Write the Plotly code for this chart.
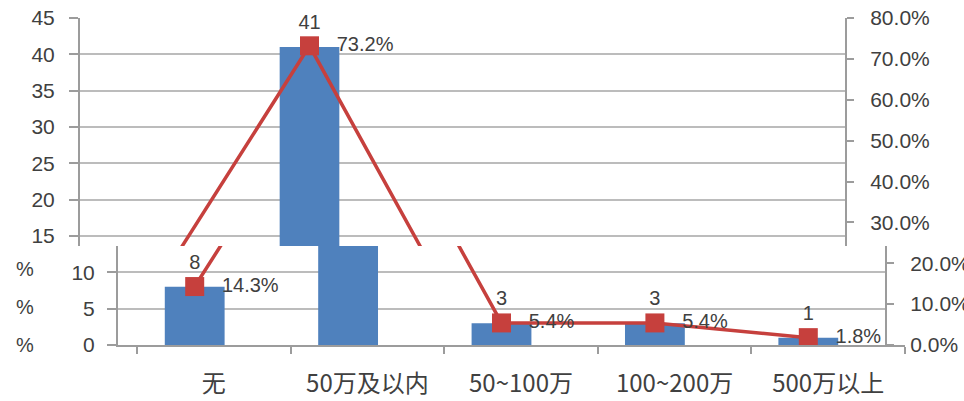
import plotly.graph_objects as go

# ---- data ----
categories = ["无", "50万及以内", "50~100万", "100~200万", "500万以上"]
counts = [8, 41, 3, 3, 1]
shares = [0.143, 0.732, 0.054, 0.054, 0.018]
share_labels = ["14.3%", "73.2%", "5.4%", "5.4%", "1.8%"]
count_labels = ["8", "41", "3", "3", "1"]
edge_marks = ["%", "%", "%"]

# ---- layout helpers (pixel positions) ----
W, H = 964, 401
def px(x):
    return x / W
def py(y):
    return 1 - y / H

LEFT_MAX, RIGHT_MAX = 45, 0.8
PLOT_TOP, PLOT_BOTTOM, SPLIT = 18, 345, 246
frac = (PLOT_BOTTOM - SPLIT) / (PLOT_BOTTOM - PLOT_TOP)
cut_left = LEFT_MAX * frac
cut_right = RIGHT_MAX * frac

BAR = "#4f81bd"
RED = "#c6403d"
TXT = "#404040"
GRID = "#bcbcbc"
AXL = "#9c9c9c"
NUMFONT = "Liberation Sans, Noto Sans CJK SC"

fig = go.Figure()

def add_panel(xa, ya, ya2, top):
    fig.add_trace(go.Bar(x=categories, y=counts, marker_color=BAR, marker_line_width=0,
                         xaxis=xa, yaxis=ya, showlegend=False, hoverinfo="skip"))
    fig.add_trace(go.Scatter(x=categories, y=shares, mode="lines+markers",
                             line=dict(color=RED, width=3.5),
                             marker=dict(symbol="square", size=19, color=RED),
                             xaxis=xa, yaxis=ya2, showlegend=False, hoverinfo="skip"))
    if top:
        ctext = [t if v > cut_left else "" for t, v in zip(count_labels, counts)]
        stext = [t if v > cut_right else "" for t, v in zip(share_labels, shares)]
        clip = False
    else:
        ctext, stext, clip = count_labels, share_labels, True
    fig.add_trace(go.Scatter(x=categories, y=counts, mode="markers+text", text=ctext,
                             textposition="top center", cliponaxis=clip,
                             marker=dict(size=19, opacity=0),
                             textfont=dict(size=20, color=TXT, family=NUMFONT),
                             xaxis=xa, yaxis=ya, showlegend=False, hoverinfo="skip"))
    fig.add_trace(go.Scatter(x=categories, y=shares, mode="markers+text", text=stext,
                             textposition="middle right", cliponaxis=clip,
                             marker=dict(size=42, opacity=0),
                             textfont=dict(size=20, color=TXT, family=NUMFONT),
                             xaxis=xa, yaxis=ya2, showlegend=False, hoverinfo="skip"))

add_panel("x", "y", "y2", True)
add_panel("x3", "y3", "y4", False)

# category label axis (shifted layer)
fig.add_trace(go.Scatter(x=categories, y=[None] * len(categories), xaxis="x5", yaxis="y6",
                         showlegend=False, hoverinfo="skip"))

cat_common = dict(type="category", categoryorder="array", categoryarray=categories,
                  range=[-0.5, len(categories) - 0.5], showgrid=False, zeroline=False,
                  automargin=False)

left_common = dict(showline=True, linecolor=AXL, linewidth=2, ticks="outside", ticklen=9,
                   tickcolor=AXL, tickwidth=2, showgrid=True, gridcolor=GRID, gridwidth=2,
                   zeroline=False, tick0=0, dtick=5, automargin=False,
                   tickfont=dict(size=21, color=TXT, family=NUMFONT))
right_common = dict(showline=True, linecolor=AXL, linewidth=2, ticks="outside", ticklen=7,
                    tickcolor=AXL, tickwidth=2, showgrid=False, zeroline=False,
                    tick0=0, dtick=0.1, tickformat=".1%", side="right", automargin=False,
                    tickfont=dict(size=21, color=TXT, family=NUMFONT))

fig.update_layout(
    width=W, height=H,
    margin=dict(l=0, r=0, t=0, b=0, autoexpand=False),
    paper_bgcolor="white", plot_bgcolor="rgba(0,0,0,0)",
    bargap=0.61,
    xaxis=dict(domain=[px(80), px(845)], anchor="y", showticklabels=False, ticks="",
               showline=False, **cat_common),
    yaxis=dict(domain=[py(SPLIT), py(PLOT_TOP)], range=[cut_left, LEFT_MAX], anchor="x",
               ticklabelstandoff=10, **left_common),
    yaxis2=dict(overlaying="y", anchor="x", range=[cut_right, RIGHT_MAX],
                ticklabelstandoff=12, **right_common),
    xaxis3=dict(domain=[px(118), px(885)], anchor="y3", showticklabels=False, ticks="",
                showline=True, linecolor=AXL, linewidth=2, **cat_common),
    yaxis3=dict(domain=[py(PLOT_BOTTOM), py(SPLIT)], range=[0, cut_left], anchor="x3",
                ticklabelstandoff=8, **left_common),
    yaxis4=dict(overlaying="y3", anchor="x3", range=[0, cut_right],
                ticklabelstandoff=12, **right_common),
    xaxis5=dict(domain=[px(137), px(905)], anchor="y6", showticklabels=True,
                tickson="boundaries", ticks="outside", ticklen=7, tickcolor=AXL, tickwidth=2,
                showline=True, linecolor=AXL, linewidth=2, ticklabelstandoff=16,
                tickfont=dict(size=24, color=TXT, family="Noto Sans CJK SC"), **cat_common),
    yaxis6=dict(domain=[py(PLOT_BOTTOM), py(SPLIT)], range=[0, 1], anchor="x5",
                visible=False),
)

for yy, t in zip([282, 320, 358], edge_marks):
    fig.add_annotation(x=px(14), y=py(yy), xref="paper", yref="paper", text=t,
                       showarrow=False, font=dict(size=20, color=TXT, family=NUMFONT))

fig.write_html("out.html", config={"displayModeBar": False},
               post_script="document.body.style.margin='0';document.body.style.overflow='hidden';")
